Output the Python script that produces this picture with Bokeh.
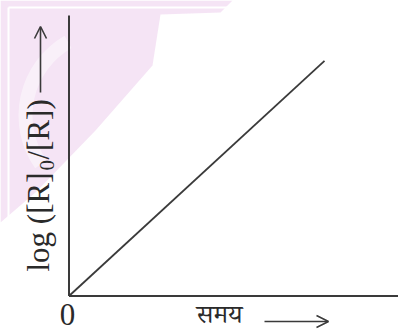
import math
from bokeh.plotting import figure
from bokeh.models import Range1d, Arrow, OpenHead
from bokeh.core.properties import value
from bokeh.embed import file_html
from bokeh.resources import INLINE

# ---- data ----
time = [0, 10]
log_ratio = [0, 9.2]
x_label = "समय"
y_label_main = "log ([R]"
y_label_sub = "0"
y_label_tail = "/[R])"
origin_label = "0"

# ---- layout (pixels -> data) ----
W, H = 398, 332
OX, OY = 68.5, 295.5              # origin in pixels
S = 255.5 / (time[-1] - time[0])  # pixels per data unit


def dx(px):
    return (px - OX) / S


def dy(py):
    return (OY - py) / S


p = figure(width=W, height=H, output_backend="svg", toolbar_location=None,
           x_range=Range1d(dx(0), dx(W)), y_range=Range1d(dy(H), dy(0)),
           min_border=0)
p.axis.visible = False
p.grid.visible = False
p.outline_line_color = None
p.background_fill_color = "white"

# faint watermark
p.patch([dx(0), dx(232), dx(220), dx(160), dx(152), dx(95), dx(35), dx(0)],
        [dy(0), dy(0), dy(12), dy(14), dy(65), dy(130), dy(192), dy(222)],
        fill_color="#f3dff3", fill_alpha=0.85, line_color=None)
p.annular_wedge(x=[dx(110)], y=[dy(115)], inner_radius=78 / S, outer_radius=92 / S,
                start_angle=math.radians(120), end_angle=math.radians(215),
                fill_color="white", fill_alpha=0.45, line_color=None)
p.line([dx(8), dx(232)], [dy(7), dy(7)], line_color="white", line_width=2)
p.line([dx(8), dx(8)], [dy(7), dy(222)], line_color="white", line_width=2)

axis_col = "#3a3a3a"
# axes
p.line([0, 0], [0, dy(15)], line_color=axis_col, line_width=2)
p.line([0, dx(W + 5)], [0, 0], line_color=axis_col, line_width=2)

# data line
p.line(time, log_ratio, line_color=axis_col, line_width=1.8)

serif = value("Liberation Serif")
txt_col = "#2a2a2a"

p.text(x=[dx(67)], y=[dy(314)], text=[origin_label], text_font=serif,
       text_font_size="31px", text_align="center", text_baseline="middle",
       text_color=txt_col)

p.text(x=[dx(219)], y=[dy(318)], text=[x_label],
       text_font=value("Noto Serif Devanagari, Noto Sans Devanagari, Lohit Devanagari, FreeSerif, serif"),
       text_font_size="26px", text_align="center", text_baseline="middle",
       text_color=txt_col)

p.add_layout(Arrow(end=OpenHead(size=12, line_color=axis_col, line_width=1.6),
                   x_start=dx(264), y_start=dy(321), x_end=dx(328), y_end=dy(321),
                   line_color=axis_col, line_width=1.6))

# rotated y label
rot = math.pi / 2
p.text(x=[dx(38)], y=[dy(271)], text=[y_label_main], angle=rot, text_font=serif,
       text_font_size="31px", text_align="left", text_baseline="middle",
       text_color=txt_col)
p.text(x=[dx(46)], y=[dy(170)], text=[y_label_sub], angle=rot, text_font=serif,
       text_font_size="21px", text_align="left", text_baseline="middle",
       text_color=txt_col)
p.text(x=[dx(38)], y=[dy(159)], text=[y_label_tail], angle=rot, text_font=serif,
       text_font_size="31px", text_align="left", text_baseline="middle",
       text_color=txt_col)
p.add_layout(Arrow(end=OpenHead(size=12, line_color=axis_col, line_width=1.6),
                   x_start=dx(40), y_start=dy(92), x_end=dx(40), y_end=dy(26),
                   line_color=axis_col, line_width=1.6))

open("out.html", "w").write(file_html(p, INLINE))
